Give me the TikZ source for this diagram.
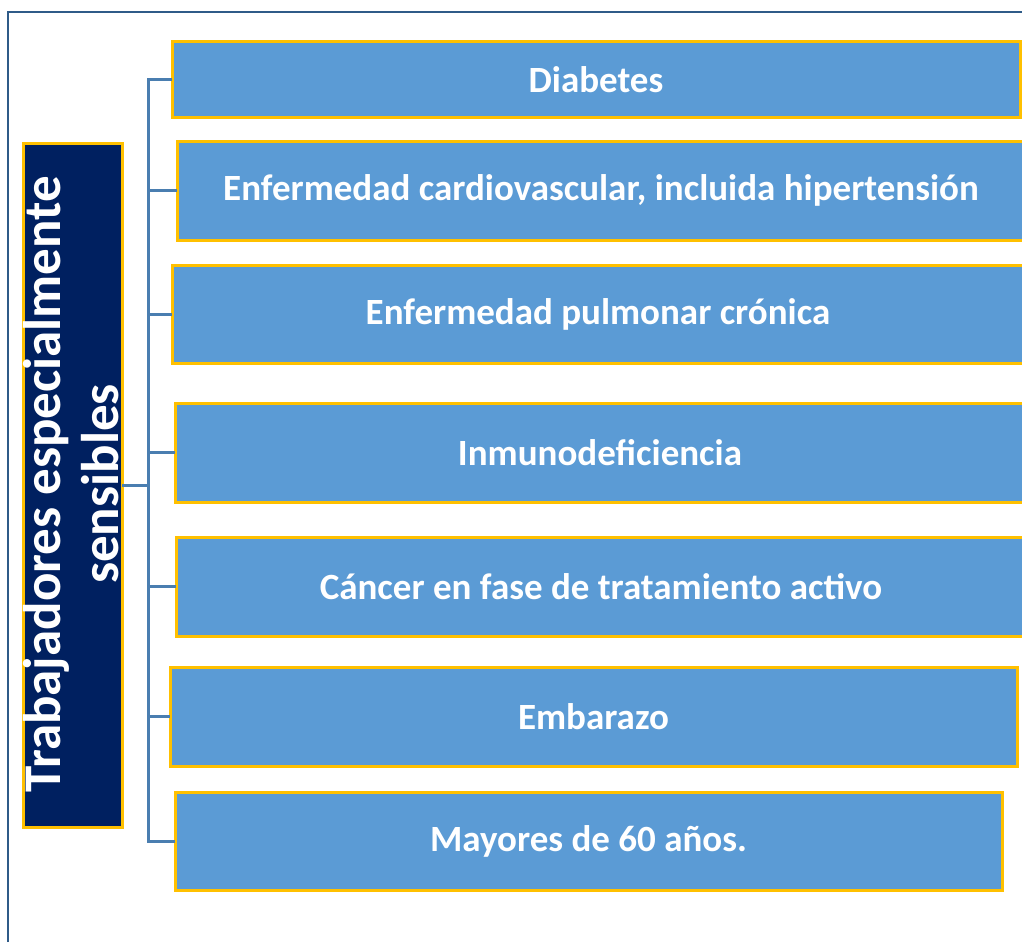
\documentclass[tikz,border=0pt]{standalone}
\usepackage{fontspec}
\setmainfont{Carlito}
\definecolor{boxfill}{HTML}{5B9BD5}
\definecolor{gold}{HTML}{FFC000}
\definecolor{navy}{HTML}{002060}
\definecolor{connblue}{HTML}{4A7EB0}
\definecolor{framecol}{HTML}{2F5B88}
\begin{document}
\begin{tikzpicture}[x=1pt,y=-1pt,
  itembox/.style={draw=gold, line width=3pt, fill=boxfill, anchor=north west, inner sep=0pt, outer sep=0pt,
    text=white, font=\fontsize{37}{44}\selectfont\bfseries, align=center},
  rootbox/.style={draw=gold, line width=3pt, fill=navy, inner sep=0pt, outer sep=0pt},
  conn/.style={draw=connblue, line width=3pt}]
\useasboundingbox (0,0) rectangle (1022,942);
\draw[framecol, line width=2pt] (8,942) -- (8,12) -- (1024,12);
\node[rootbox, minimum width=99pt, minimum height=684pt] (root) at (72.5,485) {};
\node[text=white, rotate=90, align=center, font=\fontsize{53}{58}\selectfont\bfseries] (roottext) at (71,484) {Trabajadores especialmente\\sensibles};
\node[itembox, minimum width=848pt, minimum height=75pt] (c1) at (172,42) {Diabetes};
\node[itembox, minimum width=848pt, minimum height=99pt] (c2) at (177,141) {Enfermedad cardiovascular, incluida hipertensión};
\node[itembox, minimum width=852pt, minimum height=98pt] (c3) at (172,265) {Enfermedad pulmonar crónica};
\node[itembox, minimum width=850pt, minimum height=99pt] (c4) at (175,403) {Inmunodeficiencia};
\node[itembox, minimum width=850pt, minimum height=99pt] (c5) at (176,537) {Cáncer en fase de tratamiento activo};
\node[itembox, minimum width=847pt, minimum height=99pt] (c6) at (170,667) {Embarazo};
\node[itembox, minimum width=827pt, minimum height=98pt] (c7) at (175,792) {Mayores de 60 años.};
\foreach \c in {c1,c2,c3,c4,c5,c6,c7}{
  \draw[conn] (root.east) -- ++(26,0) |- (\c.west);
}
\end{tikzpicture}
\end{document}
